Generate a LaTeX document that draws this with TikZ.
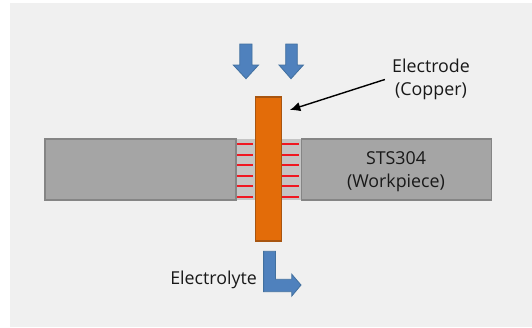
\documentclass[tikz,border=0pt]{standalone}
\usepackage{xcolor}
\usepackage{fontspec}
\usetikzlibrary{arrows.meta}
\setmainfont{Open Sans}
\definecolor{bgcol}{HTML}{F0F0F0}
\definecolor{platecol}{HTML}{A5A5A5}
\definecolor{plateedge}{HTML}{858585}
\definecolor{gapcol}{HTML}{C4C4C4}
\definecolor{coppercol}{HTML}{E36C09}
\definecolor{copperedge}{HTML}{A85510}
\definecolor{flowcol}{HTML}{4F81BD}
\definecolor{flowedge}{HTML}{41709F}
\definecolor{currentcol}{HTML}{F01822}
\tikzset{
  plate/.style={fill=platecol,draw=plateedge,line width=1.5pt},
  flow/.style={fill=flowcol,draw=flowedge,line width=0.7pt},
  current/.style={draw=currentcol,line width=1.7pt},
  caption/.style={inner sep=0pt,align=center,font=\fontsize{15.2}{20}\selectfont,text=black!90}
}
\begin{document}
\begin{tikzpicture}[scale=0.03]
\useasboundingbox (0,0) rectangle (532,-327);
\fill [white] (0,0) rectangle (532,-327);
\fill [bgcol] (10,-3) rectangle (532,-327);
% workpiece
\fill [gapcol] (235.7,-139.3) rectangle (301.4,-199.7);
\draw [plate] (45,-139.3) rectangle (235.7,-199.7);
\draw [plate] (301.4,-139.3) rectangle (491.5,-199.7);
% gap lines
\foreach \y in {143.5,154.5,164.5,175.5,185.5,196.5} {
  \draw [current] (237.4,-\y) -- (253.4,-\y);
  \draw [current] (282.3,-\y) -- (299.2,-\y);
}
% electrode
\draw [fill=coppercol,draw=copperedge,line width=1.5pt] (255.5,-96.7) rectangle (281.6,-240.7);
% flow in
\draw [flow] (239.8,-44) -- (252,-44) -- (252,-65) -- (258.5,-65) -- (246,-78.7) -- (233.3,-65) -- (239.8,-65) -- cycle;
\draw [flow] (285.7,-44) -- (297.3,-44) -- (297.3,-65) -- (303.4,-65) -- (291,-78.7) -- (279,-65) -- (285.7,-65) -- cycle;
% flow out
\draw [flow] (263.6,-251.3) -- (275.5,-251.3) -- (275.5,-279.3) -- (291.8,-279.3) -- (291.8,-274.3) -- (301,-285) -- (291.8,-296) -- (291.8,-291.7) -- (263.6,-291.7) -- cycle;
% labels
\node [caption] (sts) at (396,-171.5) {STS304\\(Workpiece)};
\node [caption] (electrolyte) at (213.6,-280) {Electrolyte};
\node [caption,inner xsep=6pt] (electrodelabel) at (431,-79.5) {Electrode\\(Copper)};
\coordinate (electrodetip) at (289.8,-110);
\draw [black,line width=1.2pt,-{Latex[length=9pt,width=8pt]}] (electrodelabel.west) -- (electrodetip);
\end{tikzpicture}
\end{document}
